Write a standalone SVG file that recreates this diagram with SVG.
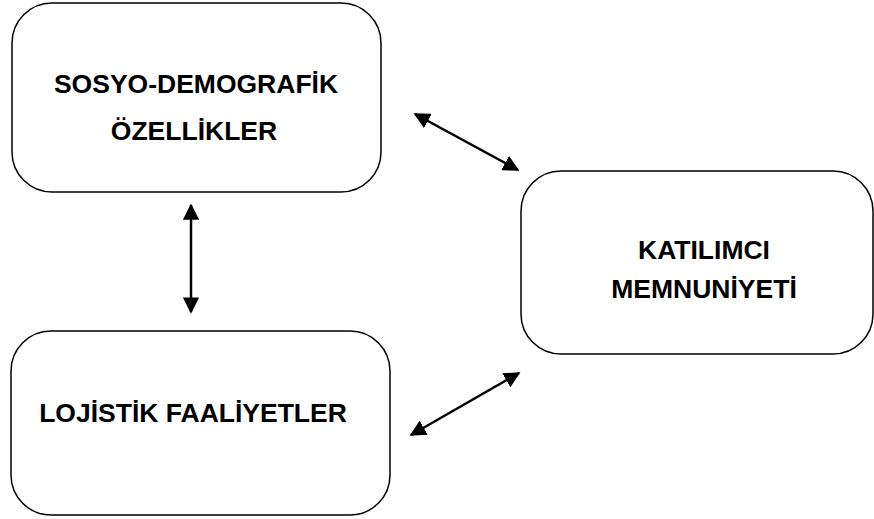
<svg xmlns="http://www.w3.org/2000/svg" width="874" height="519" viewBox="0 0 874 519">
<style>
.box{fill:#fff;stroke:#000;stroke-width:1.5}
.t{font-family:"Liberation Sans",Arial,sans-serif;font-weight:bold;font-size:26.5px;fill:#000;text-anchor:middle}
.c{stroke:#000;stroke-width:2.5;fill:none;marker-start:url(#a);marker-end:url(#a)}
</style>
<defs>
<marker id="a" viewBox="0 0 10 10" refX="9" refY="5" markerWidth="6.5" markerHeight="6.5" orient="auto-start-reverse" markerUnits="strokeWidth">
<path d="M0,0 L10,5 L0,10 z" fill="#000"/>
</marker>
</defs>
<rect width="874" height="519" fill="#fff"/>
<g id="n1">
<rect class="box" x="12" y="3" width="369" height="189" rx="40"/>
<text class="t" x="196" y="93">SOSYO-DEMOGRAFİK</text>
<text class="t" x="194" y="140">ÖZELLİKLER</text>
</g>
<g id="n2">
<rect class="box" x="521" y="171" width="352" height="183" rx="40"/>
<text class="t" x="704" y="259">KATILIMCI</text>
<text class="t" x="704" y="298">MEMNUNİYETİ</text>
</g>
<g id="n3">
<rect class="box" x="11" y="331" width="379" height="184" rx="40"/>
<text class="t" x="193" y="422">LOJİSTİK FAALİYETLER</text>
</g>
<g id="connectors">
<line class="c" x1="191" y1="205" x2="191" y2="312"/>
<line class="c" x1="415" y1="114" x2="518" y2="170"/>
<line class="c" x1="411" y1="435" x2="519" y2="373"/>
</g>
</svg>
